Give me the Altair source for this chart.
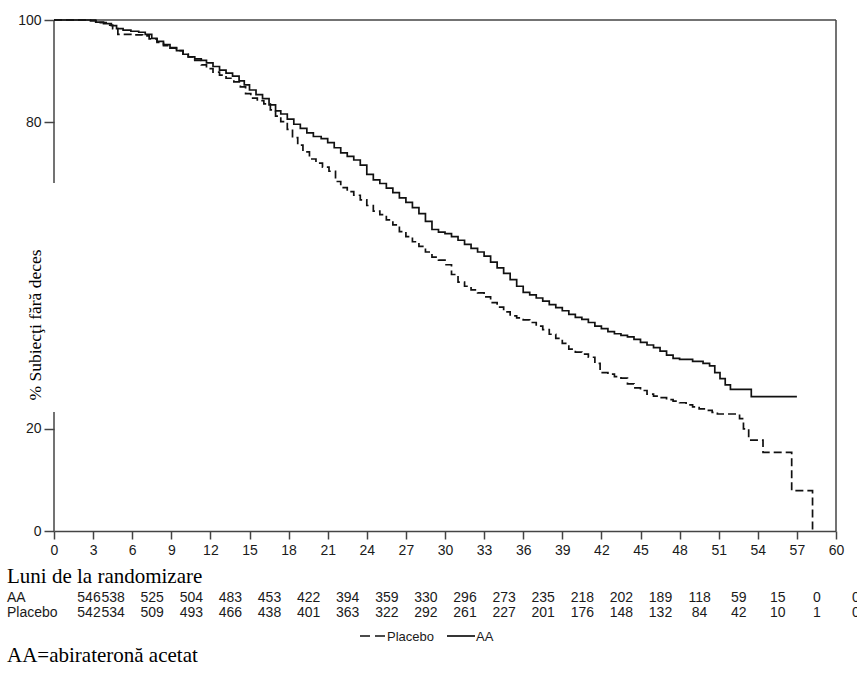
import altair as alt
import pandas as pd

# Kaplan-Meier survival estimates (% alive) by month
aa_month = [0, 2.8, 3.2, 3.8, 4.4, 4.8, 5.3, 5.9, 6.5, 7.0, 7.5, 7.9, 8.4, 8.9, 9.4, 9.9,
            10.3, 10.8, 11.3, 11.7, 12.2, 12.7, 13.2, 13.7, 14.2, 14.6, 15.0, 15.5, 16.0,
            16.5, 17.0, 17.4, 17.9, 18.4, 18.9, 19.4, 19.9, 20.5, 21.0, 21.5, 22.0, 22.5,
            23.0, 23.5, 24.0, 24.5, 25.0, 25.5, 26.0, 26.5, 27.0, 27.5, 28.0, 28.5, 29.0,
            29.5, 30.0, 30.5, 31.0, 31.5, 32.0, 32.5, 33.0, 33.5, 34.0, 34.5, 35.0, 35.5,
            36.0, 36.5, 37.0, 37.5, 38.0, 38.5, 39.0, 39.5, 40.0, 40.5, 41.0, 41.5, 42.0,
            42.5, 43.0, 43.5, 44.0, 44.5, 45.0, 45.5, 46.0, 46.5, 47.0, 47.5, 48.0, 49.0,
            49.8, 50.3, 50.7, 51.1, 51.5, 51.9, 53.5, 57.0]
aa_pct = [100, 100, 99.6, 99.3, 98.9, 98.3, 98.0, 97.8, 97.6, 97.2, 96.4, 95.8, 95.2, 94.6,
          94.0, 93.3, 92.8, 92.4, 92.1, 91.6, 90.9, 90.2, 89.6, 89.0, 88.1, 87.3, 86.3,
          85.4, 84.6, 83.4, 82.2, 81.6, 80.6, 79.6, 78.8, 77.9, 77.2, 76.8, 76.0, 75.0,
          74.0, 73.3, 72.6, 71.6, 69.8, 68.7, 68.0, 67.1, 66.2, 65.2, 64.3, 63.3, 62.1,
          60.6, 59.0, 58.5, 58.2, 57.6, 56.9, 56.1, 55.3, 54.6, 53.8, 52.6, 51.5, 50.4,
          49.2, 47.9, 46.7, 46.2, 45.6, 45.0, 44.3, 43.7, 43.1, 42.4, 41.8, 41.4, 40.8,
          40.1, 39.6, 39.0, 38.6, 38.3, 38.0, 37.5, 36.9, 36.4, 35.9, 35.2, 34.4, 33.8,
          33.6, 33.2, 32.8, 32.3, 31.0, 29.8, 28.6, 27.7, 26.3, 26.3]

pl_month = [0, 2.8, 3.3, 4.0, 4.5, 4.9, 6.0, 6.8, 7.3, 7.9, 8.4, 8.9, 9.4, 9.9, 10.3, 10.8,
            11.3, 11.7, 12.2, 12.7, 13.2, 13.8, 14.3, 14.7, 15.1, 15.6, 16.1, 16.6, 17.0,
            17.4, 17.9, 18.3, 18.7, 19.1, 19.6, 20.1, 20.6, 21.1, 21.6, 22.0, 22.5, 23.0,
            23.5, 24.0, 24.5, 25.0, 25.5, 26.0, 26.5, 27.0, 27.5, 28.0, 28.5, 29.0, 29.5,
            30.0, 30.5, 31.0, 31.5, 32.0, 32.5, 33.0, 33.5, 34.0, 34.5, 35.0, 35.5, 36.0,
            36.5, 37.0, 37.5, 38.0, 38.5, 39.0, 39.5, 40.0, 40.5, 41.0, 41.5, 41.9, 42.5,
            43.0, 43.5, 44.0, 44.5, 45.0, 45.5, 46.0, 46.5, 47.0, 47.5, 48.0, 48.5, 49.0,
            49.5, 50.0, 50.5, 50.9, 52.6, 52.9, 53.3, 54.4, 56.6, 58.2]
pl_pct = [100, 99.8, 99.5, 99.0, 98.3, 97.2, 97.1, 96.9, 96.3, 95.6, 95.0, 94.5, 94.0, 93.3,
          92.8, 92.1, 91.2, 90.5, 89.8, 89.2, 88.6, 87.9, 86.9, 85.6, 84.7, 84.2, 83.6,
          82.4, 81.2, 80.1, 78.6, 77.0, 75.5, 74.2, 72.8, 72.0, 71.2, 70.4, 68.4, 67.2,
          66.4, 65.7, 64.8, 63.7, 62.6, 61.9, 60.9, 59.9, 58.6, 57.6, 56.6, 55.7, 54.6,
          53.6, 53.0, 52.1, 50.2, 48.7, 47.9, 47.2, 46.6, 45.8, 44.7, 43.8, 42.9, 42.1,
          41.7, 41.3, 40.8, 40.1, 39.4, 38.5, 37.7, 36.7, 35.6, 35.0, 34.6, 34.0, 32.8,
          31.0, 30.7, 30.2, 29.9, 28.8, 28.0, 27.5, 26.8, 26.4, 26.1, 25.7, 25.4, 25.1,
          24.7, 24.3, 23.9, 23.6, 23.2, 22.9, 22.0, 20.0, 17.8, 15.4, 7.9, 0.0]

# Number of subjects at risk
risk_month = list(range(0, 61, 3))
risk_aa = [546, 538, 525, 504, 483, 453, 422, 394, 359, 330, 296, 273, 235, 218, 202,
           189, 118, 59, 15, 0, 0]
risk_pl = [542, 534, 509, 493, 466, 438, 401, 363, 322, 292, 261, 227, 201, 176, 148,
           132, 84, 42, 10, 1, 0]

x_ticks = list(range(0, 61, 3))
y_ticks = [0, 20, 80, 100]

W, H = 782, 511
SANS = "Liberation Sans"
SERIF = "Liberation Serif"
INK = "#111111"
AXC = "#444444"
TXT = "#1a1a1a"

curves = pd.concat([
    pd.DataFrame({"luna": aa_month, "pct": aa_pct, "grup": "AA"}),
    pd.DataFrame({"luna": pl_month, "pct": pl_pct, "grup": "Placebo"}),
])

xscale = alt.Scale(domain=[0, 60], nice=False, zero=False)
yscale = alt.Scale(domain=[0, 100], nice=False)

xaxis = alt.Axis(values=x_ticks, format="d", title=None, grid=False, labelFont=SANS,
                 labelFontSize=14, labelColor=TXT, tickSize=8, tickWidth=1.5,
                 tickColor=AXC, domainColor=AXC, domainWidth=1.5, labelPadding=4,
                 labelFlush=False, labelOverlap=False)
yaxis = alt.Axis(values=y_ticks, format="d", title=None, grid=False, domain=False,
                 labelFont=SANS, labelFontSize=14, labelColor=TXT, tickSize=10,
                 tickWidth=1.5, tickColor=AXC, labelPadding=3)

X = alt.X("luna:Q", scale=xscale, axis=xaxis)

lines = alt.Chart(curves).mark_line(interpolate="step-after", color=INK, strokeWidth=1.7).encode(
    x=X,
    y=alt.Y("pct:Q", scale=yscale, axis=yaxis),
    strokeDash=alt.StrokeDash("grup:N", scale=alt.Scale(domain=["AA", "Placebo"],
                                                       range=[[1, 0], [8, 4]]), legend=None),
    detail="grup:N",
)

# Plot frame: top and right borders, left axis line broken around the title
frame_df = pd.DataFrame({"luna": [0, 60, 0, 0], "luna2": [60, 60, 0, 0],
                         "pct": [100, 0, 68.1, 0], "pct2": [100, 100, 100, 23.3]})
frame = alt.Chart(frame_df).mark_rule(color=AXC, strokeWidth=1.5).encode(
    x=X, x2="luna2:Q",
    y=alt.Y("pct:Q", scale=yscale, axis=yaxis), y2="pct2:Q",
)

risk_df = pd.concat([
    pd.DataFrame({"luna": risk_month, "n": risk_aa, "rand": "AA"}),
    pd.DataFrame({"luna": risk_month, "n": risk_pl, "rand": "Placebo"}),
])
risk_y = {"AA": 582, "Placebo": 597}


def risk_layer(row, first):
    d = risk_df[(risk_df["rand"] == row) & ((risk_df["luna"] == 0) == first)]
    return alt.Chart(d).mark_text(font=SANS, fontSize=14, color=TXT, align="center",
                                  baseline="alphabetic", dx=35 if first else 20).encode(
        x=X,
        y=alt.value(risk_y[row]),
        text="n:Q",
    )


def label(txt, x, y, font=SANS, size=14, angle=0, color=TXT):
    props = dict(font=font, fontSize=size, align="left", baseline="alphabetic", color=color)
    if angle:
        props["angle"] = angle
        props["baseline"] = "middle"
        props["align"] = "center"
    return alt.Chart(pd.DataFrame({"t": [txt]})).mark_text(**props).encode(
        x=alt.value(x), y=alt.value(y), text="t:N")


row_labels = [label("AA", -47, risk_y["AA"]), label("Placebo", -47, risk_y["Placebo"])]
titles = [
    label("Luni de la randomizare", -47, 563, font=SERIF, size=21, color="#000000"),
    label("AA=abirateronă acetat", -47, 642, font=SERIF, size=21, color="#000000"),
    label("% Subiecţi fără deces", -18, 305, font=SERIF, size=17.5, angle=270, color="#000000"),
]

# Legend below the at-risk table
leg_y = 616
leg_dash = alt.Chart(pd.DataFrame({"k": [0]})).mark_rule(
    color=INK, strokeWidth=1.7, strokeDash=[10, 5]).encode(
    x=alt.value(306), x2=alt.value(331), y=alt.value(leg_y))
leg_solid = alt.Chart(pd.DataFrame({"k": [0]})).mark_rule(
    color=INK, strokeWidth=1.7).encode(
    x=alt.value(393), x2=alt.value(421), y=alt.value(leg_y))
legend = [leg_dash, label("Placebo", 333, 621, size=13), leg_solid,
          label("AA", 422, 621, size=13)]

chart = alt.layer(
    frame, lines,
    risk_layer("AA", True), risk_layer("AA", False),
    risk_layer("Placebo", True), risk_layer("Placebo", False),
    *row_labels, *titles, *legend,
).properties(
    width=W, height=H,
    autosize=alt.AutoSizeParams(type="none"),
    padding={"left": 54, "top": 20, "right": 21, "bottom": 152},
    background="white",
).configure_view(strokeWidth=0)

chart.save("out.html", embed_options={"renderer": "svg", "actions": False})
